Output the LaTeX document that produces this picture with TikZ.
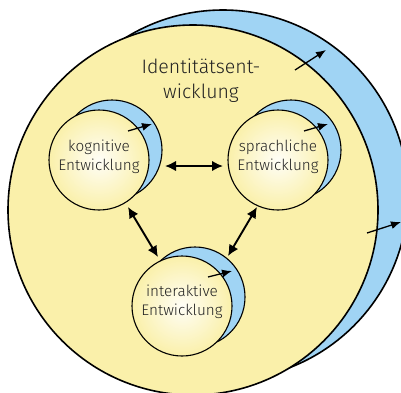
\documentclass[tikz,border=0pt]{standalone}
\usepackage{fontspec}
\setmainfont{Fira Sans Light}
\usetikzlibrary{arrows.meta}
\definecolor{idyellow}{HTML}{FAF0AA}
\definecolor{idblue}{HTML}{A0D4F4}
\definecolor{idtext}{HTML}{222222}
\tikzset{
  bigdisk/.style={circle, draw=black, line width=1.6pt, minimum size=370pt, inner sep=0pt},
  smalldisk/.style={circle, draw=black, line width=1.1pt, minimum size=100pt, inner sep=0pt},
  shadedisk/.style={smalldisk, inner color=idyellow!10!white, outer color=idyellow},
  growarrow/.style={-{Latex[length=10pt,width=8pt]}, line width=1.3pt},
  linkarrow/.style={{Latex[length=11pt,width=10.5pt]}-{Latex[length=11pt,width=10.5pt]}, line width=1.9pt},
  label/.style={align=center, text=idtext, font=\fontsize{15.3}{19.5}\selectfont},
}
\begin{document}
\begin{tikzpicture}[x=1pt,y=-1pt]
\useasboundingbox (0,0) rectangle (401,392);
% big circles
\node[bigdisk, fill=idblue] (bigblue) at (223,195) {};
\node[bigdisk, fill=idyellow] (bigyellow) at (193,210) {};
% kognitive
\node[smalldisk, fill=idblue] (kogblue) at (112,150) {};
\node[shadedisk] (kog) at (99,160) {};
% sprachliche
\node[smalldisk, fill=idblue] (sprblue) at (291,150) {};
\node[shadedisk] (spr) at (278,160) {};
% interaktive
\node[smalldisk, fill=idblue] (intblue) at (195,297) {};
\node[shadedisk] (int) at (182,306) {};
% texts
\node[label, font=\fontsize{19.5}{25}\selectfont] (title) at (201,81) {Identitätsent-\\wicklung};
\node[label] (kogtext) at (99,157) {kognitive\\Entwicklung};
\node[label] (sprtext) at (278,157) {sprachliche\\Entwicklung};
\node[label] (inttext) at (182,302) {interaktive\\Entwicklung};
% growth arrows
\coordinate (g1a) at (295,70); \coordinate (g1b) at (326,50);
\coordinate (g2a) at (367,233); \coordinate (g2b) at (401,222);
\coordinate (k1a) at (128,131); \coordinate (k1b) at (152,124);
\coordinate (s1a) at (304,131); \coordinate (s1b) at (328,124);
\coordinate (i1a) at (208,277); \coordinate (i1b) at (232,271);
\draw[growarrow] (g1a) -- (g1b);
\draw[growarrow] (g2a) -- (g2b);
\draw[growarrow] (k1a) -- (k1b);
\draw[growarrow] (s1a) -- (s1b);
\draw[growarrow] (i1a) -- (i1b);
% link arrows
\coordinate (ks1) at (165,166); \coordinate (ks2) at (223,166);
\coordinate (ki1) at (128,207); \coordinate (ki2) at (158,257);
\coordinate (si1) at (257,207); \coordinate (si2) at (228,256);
\draw[linkarrow] (ks1) -- (ks2);
\draw[linkarrow] (ki1) -- (ki2);
\draw[linkarrow] (si1) -- (si2);
\end{tikzpicture}
\end{document}
